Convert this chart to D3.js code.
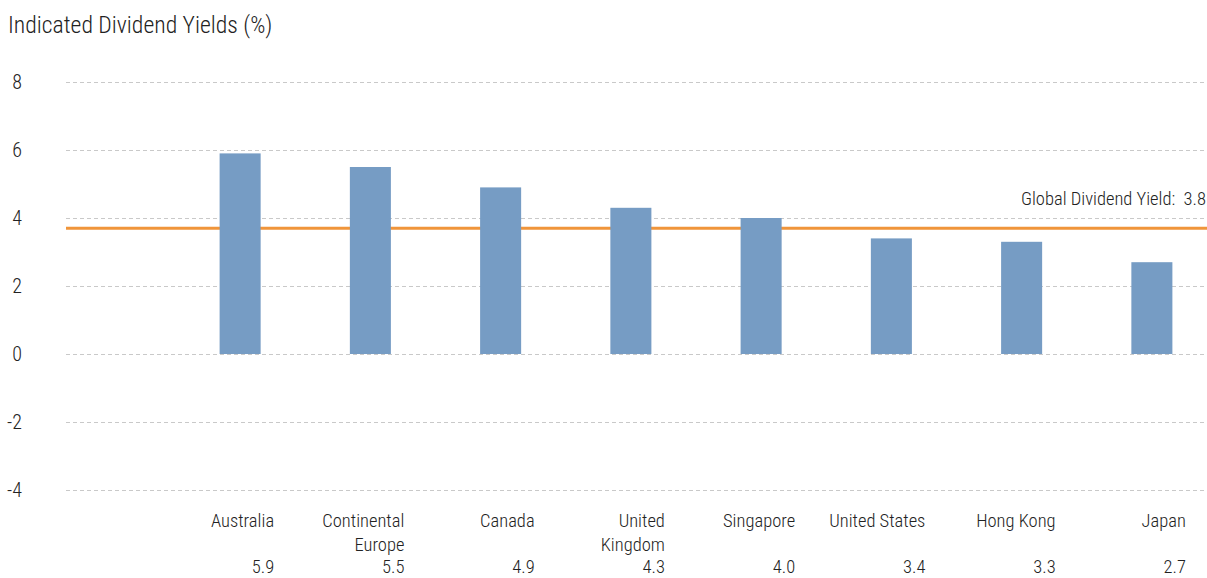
<!DOCTYPE html>
<html>
<head>
<meta charset="utf-8">
<script src="https://cdn.jsdelivr.net/npm/d3@7"></script>
<style>
  html, body { margin: 0; padding: 0; background: #fff; }
  svg text { font-family: "Roboto", "Liberation Sans", sans-serif; font-stretch: condensed; font-weight: 300; fill: #222; }
</style>
</head>
<body>
<svg id="chart" width="1207" height="578"></svg>
<script>
const categories = ["Australia", "Continental\nEurope", "Canada", "United\nKingdom", "Singapore", "United States", "Hong Kong", "Japan"];
const yields = [5.9, 5.5, 4.9, 4.3, 4.0, 3.4, 3.3, 2.7];
const yTicks = [-4, -2, 0, 2, 4, 6, 8];
const globalYieldLabel = 3.8;
const globalYieldLine = 3.7;
const title = "Indicated Dividend Yields (%)";

const svg = d3.select("#chart");
const plotLeft = 66, plotRight = 1207;

const x = d3.scaleBand().domain(categories).range([175, 1217]).paddingInner(0.685).paddingOuter(0.3425);
const y = d3.scaleLinear().domain([-4, 8]).range([490, 82]);

// title
svg.append("text").attr("x", 8).attr("y", 33).attr("font-size", 23.7).text(title);

// gridlines + tick labels
const yAxis = d3.axisLeft(y).tickValues(yTicks).tickSize(-(plotRight - plotLeft)).tickPadding(44).tickFormat(d => String(d));
const ga = svg.append("g").attr("transform", `translate(${plotLeft},0)`).call(yAxis);
ga.select(".domain").remove();
ga.selectAll(".tick line").attr("stroke", "#c9c9c9").attr("stroke-width", 1).attr("stroke-dasharray", "4,3");
ga.selectAll(".tick text").attr("font-size", 20).attr("fill", "#222")
  .style("font-family", '"Roboto", sans-serif').style("font-stretch", "condensed").style("font-weight", 300);

// global yield line
svg.append("line")
  .attr("x1", plotLeft).attr("x2", plotRight)
  .attr("y1", y(globalYieldLine)).attr("y2", y(globalYieldLine))
  .attr("stroke", "#f0953a").attr("stroke-width", 3);
svg.append("text").attr("x", 1206).attr("y", 205).attr("text-anchor", "end").attr("font-size", 18.5)
  .attr("xml:space", "preserve")
  .text("Global Dividend Yield:  " + globalYieldLabel.toFixed(1));

// bars
svg.append("g").selectAll("rect").data(categories).join("rect")
  .attr("x", d => x(d)).attr("width", x.bandwidth())
  .attr("y", (d, i) => y(Math.max(0, yields[i])))
  .attr("height", (d, i) => Math.abs(y(yields[i]) - y(0)))
  .attr("fill", "#769cc4");

const off = 34;
// category labels
const lab = svg.append("g").selectAll("text").data(categories).join("text")
  .attr("text-anchor", "end").attr("font-size", 18.5)
  .attr("x", d => x(d) + x.bandwidth() / 2 + off)
  .attr("y", 527);
lab.each(function(d) {
  const t = d3.select(this);
  d.split("\n").forEach((line, k) => {
    t.append("tspan").attr("x", x(d) + x.bandwidth() / 2 + off).attr("dy", k === 0 ? 0 : 24).text(line);
  });
});

// values row
svg.append("g").selectAll("text").data(categories).join("text")
  .attr("text-anchor", "end").attr("font-size", 18.5)
  .attr("x", d => x(d) + x.bandwidth() / 2 + off)
  .attr("y", 573)
  .text((d, i) => yields[i].toFixed(1));
</script>
</body>
</html>
